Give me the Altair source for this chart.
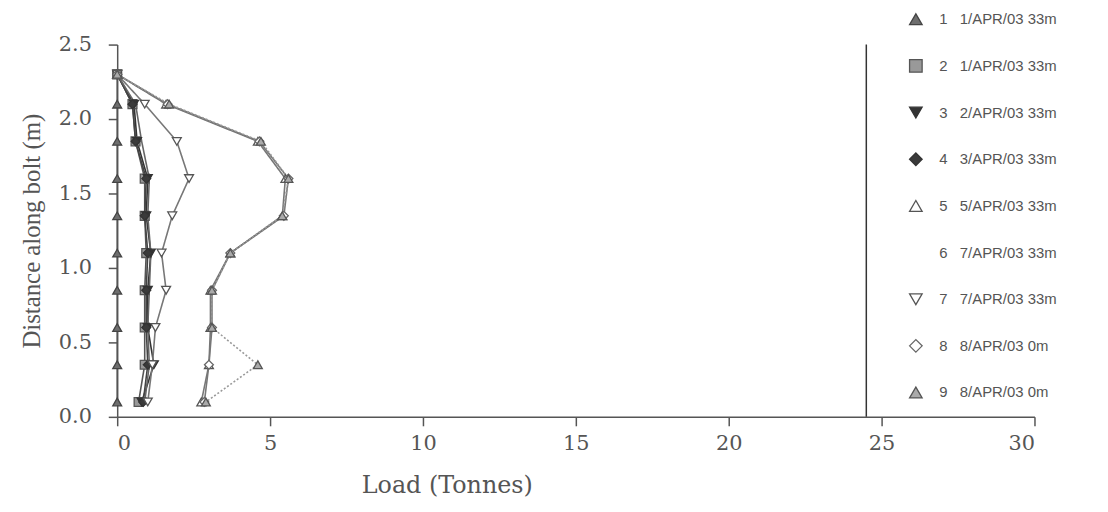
import altair as alt
import pandas as pd

# depth levels along the bolt (m), top to bottom
levels = [2.3, 2.1, 1.85, 1.6, 1.35, 1.1, 0.85, 0.6, 0.35, 0.1]

NB = "\u00a0"
labels = [
    "1" + NB * 3 + "1/APR/03 33m",
    "2" + NB * 3 + "1/APR/03 33m",
    "3" + NB * 3 + "2/APR/03 33m",
    "4" + NB * 3 + "3/APR/03 33m",
    "5" + NB * 3 + "5/APR/03 33m",
    "6" + NB * 3 + "7/APR/03 33m",
    "7" + NB * 3 + "7/APR/03 33m",
    "8" + NB * 3 + "8/APR/03 0m",
    "9" + NB * 3 + "8/APR/03 0m",
]
series_ids = ["1", "2", "3", "4", "5", "6", "7", "8", "9"]

s1 = [0.0, 0.0, 0.0, 0.0, 0.0, 0.0, 0.0, 0.0, 0.0, 0.0]
s2 = [0.0, 0.5, 0.6, 0.9, 0.9, 0.95, 0.9, 0.9, 0.9, 0.7]
s3 = [0.0, 0.55, 0.65, 1.0, 0.95, 1.1, 1.0, 1.0, 1.2, 0.8]
s4 = [0.0, 0.5, 0.6, 0.95, 0.9, 1.0, 0.95, 0.95, 1.0, 0.85]
s5 = [0.0, 1.6, 4.6, 5.5, 5.4, 3.7, 3.05, 3.05, 3.0, 2.75]
s6 = [0.0, 0.6, 0.8, 1.05, 1.0, 1.1, 1.05, 1.0, 1.05, 0.9]
s7 = [0.0, 0.9, 1.95, 2.35, 1.8, 1.45, 1.6, 1.25, 1.15, 1.0]
s8 = [0.0, 1.65, 4.65, 5.6, 5.45, 3.7, 3.1, 3.1, 3.0, 2.85]
s9 = [0.0, 1.7, 4.7, 5.6, 5.4, 3.7, 3.1, 3.1, 4.6, 2.9]
series = [s1, s2, s3, s4, s5, s6, s7, s8, s9]

artifact_x = [24.5]

rows = []
for sid, lab, vals in zip(series_ids, labels, series):
    for i, (v, d) in enumerate(zip(vals, levels)):
        rows.append({"sid": sid, "label": lab, "idx": i, "load": v, "dist": d})
df = pd.DataFrame(rows)

line_colors = ["#555555", "#555555", "#333333", "#444444", "#777777",
               "#666666", "#777777", "#777777", "#999999"]
line_dash = [[1, 0]] * 8 + [[2, 2]]
shapes = ["triangle-up", "square", "triangle-down", "diamond", "triangle-up",
          "circle", "triangle-down", "diamond", "triangle-up"]
fills = ["#6e6e6e", "#999999", "#333333", "#3a3a3a", "#ffffff",
         "transparent", "#ffffff", "#ffffff", "#aaaaaa"]
strokes = ["#444444", "#555555", "#333333", "#333333", "#555555",
           "transparent", "#555555", "#666666", "#555555"]

xscale = alt.Scale(domain=[0, 30], nice=False)
yscale = alt.Scale(domain=[0, 2.5], nice=False)

x_axis = alt.Axis(values=[0, 5, 10, 15, 20, 25, 30], title="Load (Tonnes)",
                  grid=False, tickSize=9, labelPadding=7,
                  titleX=332, titleY=76, titleBaseline="alphabetic",
                  titleAnchor="start", titleAlign="center")
y_axis = alt.Axis(values=[0, 0.5, 1.0, 1.5, 2.0, 2.5], format=".1f",
                  title="Distance along bolt (m)", grid=False, tickSize=9,
                  labelPadding=17, titlePadding=14)

leg = alt.Legend(
    title=None, orient="none", legendX=797, legendY=-33, rowPadding=29,
    labelFont="Liberation Sans", labelFontSize=15, labelColor="#555555",
    symbolSize=160, symbolStrokeWidth=1.3, labelOffset=16, symbolOpacity=1,
)

base = alt.Chart(df)

lines = base.mark_line(strokeWidth=1.6).encode(
    x=alt.X("load:Q", scale=xscale, axis=x_axis),
    y=alt.Y("dist:Q", scale=yscale, axis=y_axis),
    color=alt.Color("sid:N", scale=alt.Scale(domain=series_ids, range=line_colors), legend=None),
    strokeDash=alt.StrokeDash("sid:N", scale=alt.Scale(domain=series_ids, range=line_dash), legend=None),
    order=alt.Order("idx:Q"),
)

points = base.mark_point(size=80, strokeWidth=1.3, opacity=1).encode(
    x=alt.X("load:Q", scale=xscale),
    y=alt.Y("dist:Q", scale=yscale),
    shape=alt.Shape("label:N", scale=alt.Scale(domain=labels, range=shapes), legend=leg),
    fill=alt.Fill("label:N", scale=alt.Scale(domain=labels, range=fills), legend=leg),
    stroke=alt.Stroke("label:N", scale=alt.Scale(domain=labels, range=strokes), legend=leg),
)

rule = alt.Chart(pd.DataFrame({"v": artifact_x})).mark_rule(color="#333333", strokeWidth=1.5).encode(
    x=alt.X("v:Q", scale=xscale)
)

chart = alt.layer(rule, lines, points).properties(
    width=924, height=375,
    autosize=alt.AutoSizeParams(type="none"),
    padding={"left": 110, "top": 35, "right": 66, "bottom": 94},
    background="#ffffff",
).configure_view(stroke=None).configure_axis(
    domainColor="#555555", tickColor="#555555", domainWidth=1.5, tickWidth=1.5,
    labelColor="#555555", titleColor="#555555",
    labelFont="DejaVu Serif", labelFontSize=21,
    titleFont="Liberation Serif", titleFontSize=25, titleFontWeight="normal",
).configure_axisX(titleFont="DejaVu Serif", titleFontSize=24)

chart.save("out.html", embed_options={"renderer": "svg", "actions": False})
